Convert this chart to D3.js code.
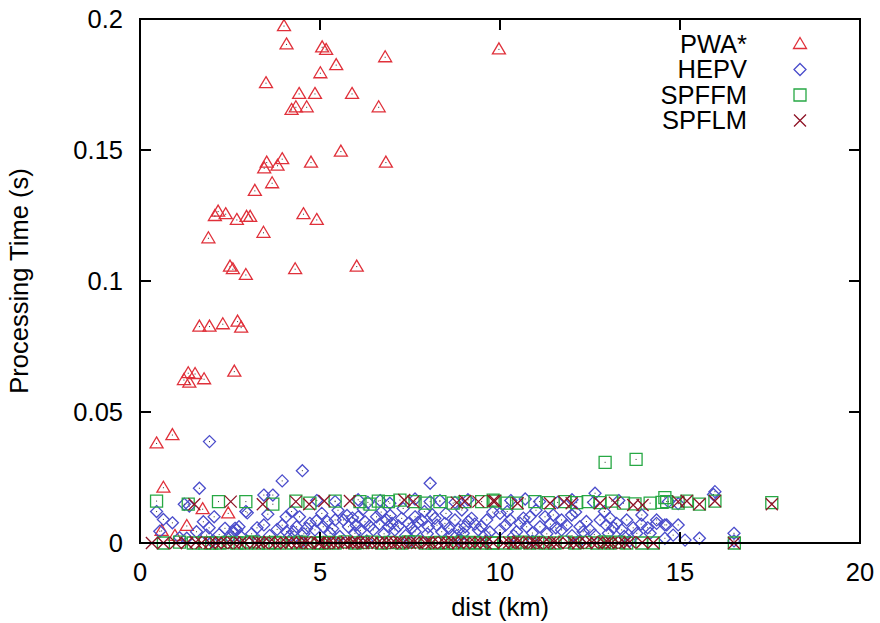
<!DOCTYPE html>
<html>
<head>
<meta charset="utf-8">
<script src="https://cdn.jsdelivr.net/npm/d3@7"></script>
<style>
body { margin: 0; background: #fff; }
text { font-family: "Liberation Sans", Arial, sans-serif; fill: #000; }
</style>
</head>
<body>
<div id="chart-area"></div>
<script>
/*
*    scatter: processing time vs distance
*/

var W = 880;
var H = 623;
var margin = {top: 19, right: 20, bottom: 80, left: 140};
var width = 720;
var height = 524;
var fontSize = "25.5px";

// tick labels
var xTicks = [0, 5, 10, 15, 20];
var yTicks = [0, 0.05, 0.1, 0.15, 0.2];
var seriesNames = ["PWA*", "HEPV", "SPFFM", "SPFLM"];
var seriesColors = ["#e0303a", "#4a4ccb", "#27a844", "#8e1326"];

// PWA* [dist, time]
var pwa = [
  [4.0,0.1973],[4.07,0.1903],[5.06,0.1892],[5.17,0.1882],[6.81,0.1854],[9.97,0.1884],
  [5.45,0.1824],[5.01,0.1793],[3.5,0.1755],[4.42,0.1714],[4.86,0.1714],[5.89,0.1714],
  [4.21,0.1653],[4.33,0.1663],[4.63,0.1663],[6.63,0.1663],[5.58,0.1494],
  [3.52,0.1452],[3.45,0.143],[3.95,0.1465],[3.82,0.144],[4.75,0.1452],[6.83,0.1452],
  [3.67,0.1373],[3.19,0.1344],
  [2.17,0.1265],[2.08,0.1248],[2.38,0.1255],[2.69,0.1233],[2.96,0.1245],[3.06,0.1245],
  [4.54,0.1255],[4.91,0.1233],[1.9,0.1163],[3.43,0.1184],
  [2.5,0.1055],[2.58,0.1045],[2.94,0.1023],[4.31,0.1045],[6.02,0.1055],
  [1.65,0.0826],[1.93,0.0826],[2.3,0.0835],[2.71,0.0845],[2.81,0.0822],
  [1.34,0.0648],[1.53,0.0645],[1.22,0.0622],[1.37,0.0612],[1.78,0.0625],[2.62,0.0654],
  [0.46,0.038],[0.9,0.0412],[0.65,0.0211],[1.74,0.0129],[2.45,0.0113],
  [1.3,0.0065],[0.6,0.0046],[0.97,0.0027]
];

// HEPV [dist, time]
var hepv = [
  [1.93,0.0387],[4.51,0.0276],[3.95,0.0237],[1.65,0.0209],[8.06,0.0228],[12.64,0.019],
  [15.97,0.0196],[15.93,0.0185],
  [0.46,0.012],[0.65,0.009],[0.9,0.0077],[1.37,0.0141],[1.76,0.0081],[1.92,0.0058],
  [2.06,0.01],[2.36,0.0056],[2.64,0.0056],[2.69,0.005],[2.59,0.0043],[2.94,0.012],
  [2.98,0.0115],[3.44,0.0183],[3.69,0.0183],[3.55,0.011],[3.44,0.0069],[3.81,0.0052],
  [4.06,0.01],[4.21,0.012],[4.43,0.01],[4.35,0.0062],[4.63,0.0056],[4.72,0.0075],
  [4.86,0.005],[4.26,0.0043],[4.07,0.0043],[1.57,0.0043],[1.85,0.003],[1.3,0.0018],
  [1.23,0.0148],[2.8,0.0025],[3.1,0.0035],[0.55,0.0045],[1.1,0.002],
  [2.2,0.0032],[2.5,0.0021],[2.75,0.0062],[3.25,0.0058],[3.6,0.0028],[3.95,0.0068],
  [4.15,0.0025],[4.55,0.0035],[4.9,0.0085],
  [5.05,0.0113],[5.42,0.0088],[5.65,0.0088],[5.79,0.0062],[6.06,0.01],[6.25,0.0081],
  [6.57,0.01],[6.85,0.0088],[6.9,0.0062],[7.27,0.0094],[7.45,0.0075],[7.64,0.01],
  [7.82,0.0088],[8.01,0.0062],[8.19,0.0094],[8.47,0.0075],[8.75,0.0088],[9.03,0.0062],
  [9.21,0.0094],[9.4,0.005],[9.63,0.0088],[5.09,0.0062],[5.28,0.0037],[5.97,0.0037],
  [6.48,0.005],[7.08,0.005],[7.64,0.0043],[8.38,0.0043],[8.66,0.003],[8.98,0.0037],
  [9.58,0.003],[7.31,0.0132],[8.94,0.0126],[5.5,0.0125],[6.2,0.013],[6.7,0.0118],
  [7.9,0.012],[8.5,0.0113],[9.8,0.0118],[6.0,0.0068],[7.0,0.0075],[8.25,0.0068],
  [9.3,0.0072],[5.2,0.0082],[6.65,0.0072],[7.55,0.0058],[8.85,0.0052],
  [5.35,0.0055],[5.55,0.0025],[5.9,0.0095],[6.12,0.0048],[6.38,0.0065],[6.78,0.0035],
  [7.18,0.0065],[7.38,0.0028],[7.72,0.0078],[7.98,0.0035],[8.12,0.0108],[8.58,0.0056],
  [8.8,0.0028],[9.12,0.0082],[9.48,0.0064],[9.72,0.0042],[5.75,0.0105],[6.95,0.0105],
  [4.91,0.0162],[5.42,0.0158],[6.06,0.0165],[6.33,0.0155],[6.67,0.0162],[6.94,0.0152],
  [7.64,0.0168],[8.06,0.0158],[8.33,0.0162],[8.75,0.0155],[9.11,0.0165],[10.3,0.0162],
  [11.1,0.0158],[12.0,0.0165],[12.6,0.0155],[13.3,0.0162],[14.68,0.0158],[14.95,0.015],
  [10.7,0.0168],[11.6,0.0155],
  [10.0,0.0113],[10.28,0.0088],[10.56,0.0075],[10.83,0.01],[11.11,0.0062],[11.25,0.01],
  [11.48,0.0107],[11.71,0.0088],[11.99,0.0107],[12.22,0.0062],[12.5,0.005],[12.78,0.0088],
  [13.06,0.0094],[13.24,0.0075],[13.52,0.0088],[13.94,0.0107],[14.35,0.0088],[14.58,0.0069],
  [10.0,0.005],[10.46,0.0043],[10.74,0.0062],[11.71,0.005],[12.31,0.0043],[13.01,0.0037],
  [13.38,0.005],[13.8,0.0037],[14.17,0.0037],[14.58,0.0018],[14.63,0.0069],[14.95,0.0069],
  [14.81,0.003],[15.14,0.0011],[15.54,0.0018],[16.5,0.0037],[14.35,0.0075],[10.2,0.012],
  [11.0,0.0125],[12.1,0.0118],[12.9,0.012],[10.9,0.0038],[11.4,0.0072],[12.0,0.0028],
  [12.95,0.0068],[13.7,0.0058],[11.85,0.0068],
  [10.15,0.0068],[10.38,0.0028],[10.65,0.0095],[11.3,0.0035],[11.55,0.0058],[12.4,0.0082],
  [12.62,0.0032],[13.15,0.0058],[13.45,0.0025],[13.92,0.0072],[14.1,0.0058],
  [2.0,0.0005],[3.3,0.0008],[4.5,0.0006],[6.3,0.0008],[7.5,0.0005],[8.9,0.0009],
  [9.6,0.0006],[10.9,0.0007],[12.2,0.0005],[13.6,0.0008],[16.5,0.0008]
];

// SPFFM [dist, time]
var spffm = [
  [12.92,0.0308],[13.78,0.0319],
  [0.46,0.016],[1.34,0.0148],[2.18,0.0158],[2.94,0.0158],[3.69,0.0148],[4.33,0.016],
  [4.72,0.0152],[5.42,0.016],[6.11,0.0158],[6.39,0.0148],[6.62,0.016],[6.9,0.0158],
  [7.22,0.0164],[7.64,0.0158],[7.92,0.0152],[8.33,0.0158],[8.7,0.0152],[9.03,0.0158],
  [9.49,0.0158],[9.81,0.0164],[9.86,0.016],[10.19,0.0152],[10.46,0.0152],[10.97,0.0158],
  [11.34,0.0154],[11.81,0.0158],[12.13,0.0154],[12.45,0.0158],[12.78,0.0154],[13.1,0.016],
  [13.43,0.0152],[13.75,0.0149],[14.17,0.0152],[14.58,0.0173],[14.5,0.0155],[14.63,0.0158],
  [14.95,0.0152],[15.19,0.016],[15.54,0.0148],[15.97,0.016],[17.55,0.0154],
  [0.65,0],[1.48,0],[1.8,0],[1.99,0],[2.22,0],[2.69,0],[2.96,0],[3.29,0],[3.56,0],
  [3.89,0],[4.26,0],[4.63,0],[4.95,0],[5.05,0],[5.42,0],[5.97,0],[6.71,0],[7.27,0],
  [7.64,0.0004],[7.92,0],[8.19,0],[8.52,0],[8.75,0],[9.12,0],[9.49,0],[9.77,0],[9.81,0],
  [10.14,0],[10.42,0],[10.83,0],[11.25,0],[11.53,0],[12.08,0],[12.69,0],[13.06,0],
  [13.52,0],[13.94,0],[14.26,0],[16.51,0],
  [1.1,0.0003],[2.45,0.0002],[3.1,0.0004],[3.75,0.0002],[4.45,0.0003],[5.25,0.0002],
  [5.7,0.0004],[6.2,0.0002],[6.45,0.0003],[6.95,0.0002],[7.45,0.0004],[8.35,0.0002],
  [8.95,0.0003],[9.3,0.0002],[10.6,0.0003],[11.05,0.0002],[11.8,0.0003],[12.35,0.0002],
  [12.9,0.0004],[13.3,0.0003]
];

// SPFLM [dist, time]
var spflm = [
  [1.51,0.0148],[2.52,0.0158],[3.41,0.0148],[4.33,0.0158],[4.7,0.0148],[5.12,0.016],
  [5.83,0.016],[7.34,0.0164],[7.59,0.0158],[8.8,0.0154],[9.03,0.016],[9.4,0.0158],
  [9.81,0.016],[9.86,0.016],[10.49,0.0152],[11.39,0.0152],[11.78,0.0158],[11.99,0.0152],
  [12.78,0.0152],[13.19,0.0154],[13.7,0.0145],[13.96,0.0145],[14.95,0.0158],[15.19,0.016],
  [15.54,0.0148],[15.97,0.016],[17.55,0.0148],
  [0.33,0],[0.65,0],[1.0,0],[1.3,0],[1.71,0],[1.94,0],[2.1,0],[2.41,0],[2.6,0],[2.78,0],
  [3.19,0],[3.4,0],[3.75,0],[3.9,0],[4.07,0],[4.35,0],[4.5,0],[4.72,0],[4.95,0],[5.0,0],
  [5.14,0],[5.37,0],[5.5,0],[5.65,0],[5.88,0],[6.06,0],[6.2,0],[6.44,0],[6.6,0],[6.71,0],
  [6.99,0],[7.1,0],[7.31,0],[7.5,0],[7.7,0],[7.92,0],[8.1,0],[8.3,0],[8.56,0],[8.84,0],
  [9.0,0],[9.31,0],[9.6,0],[9.81,0],[10.1,0],[10.37,0],[10.6,0],[10.83,0],[11.02,0],
  [11.2,0],[11.39,0],[11.6,0],[11.9,0],[12.17,0],[12.4,0],[12.69,0],[12.9,0],[13.1,0],
  [13.3,0],[13.47,0],[14.26,0],[16.5,0],
  [1.55,0.0003],[2.25,0.0002],[2.9,0.0003],[3.3,0.0002],[3.6,0.0004],[4.2,0.0002],
  [4.6,0.0003],[5.25,0.0002],[5.75,0.0004],[5.95,0.0002],[6.3,0.0003],[6.85,0.0002],
  [7.2,0.0004],[7.6,0.0002],[8.0,0.0003],[8.45,0.0002],[8.7,0.0004],[9.15,0.0002],
  [9.45,0.0003],[10.25,0.0002],[10.5,0.0004],[10.95,0.0002],[11.5,0.0003],[12.05,0.0002],
  [12.55,0.0003],[13.0,0.0002],[13.6,0.0003],[13.95,0.0002]
];

var svg = d3.select("#chart-area").append("svg")
.attr("width", W)
.attr("height", H)

var g = svg.append("g")
.attr("transform", "translate(" + margin.left + ", " + margin.top + ")")

var x = d3.scaleLinear()
.domain([0, 20])
.range([0, width])

var y = d3.scaleLinear()
.domain([0, 0.2])
.range([height, 0])

// marker shapes, gnuplot style
var shapes = [
  "M0,-6.5L6.5,4.5L-6.5,4.5Z",
  "M0,-6L6,0L0,6L-6,0Z",
  "M-6,-6L6,-6L6,6L-6,6Z",
  "M-6,-6L6,6M6,-6L-6,6"
];

// tick labels
g.selectAll(".xlab")
.data(xTicks)
.enter().append("text")
.attr("x", d => x(d))
.attr("y", height + 38)
.attr("text-anchor", "middle")
.attr("font-size", fontSize)
.text(d => d)

g.selectAll(".ylab")
.data(yTicks)
.enter().append("text")
.attr("x", -17)
.attr("y", d => y(d))
.attr("dy", "0.35em")
.attr("text-anchor", "end")
.attr("font-size", fontSize)
.text(d => d)

// axis labels
g.append("text")
.attr("x", width / 2)
.attr("y", height + 73)
.attr("text-anchor", "middle")
.attr("font-size", fontSize)
.text("dist (km)")

g.append("text")
.attr("transform", "rotate(-90)")
.attr("x", -height / 2)
.attr("y", -112)
.attr("text-anchor", "middle")
.attr("font-size", fontSize)
.text("Processing Time (s)")

// points
var allSeries = [pwa, hepv, spffm, spflm];
allSeries.forEach((data, i) => {
  var pts = g.append("g").selectAll("g")
  .data(data)
  .enter().append("g")
  .attr("transform", d => "translate(" + x(d[0]) + "," + y(d[1]) + ")")

  pts.append("path")
  .attr("d", shapes[i])
  .attr("fill", "none")
  .attr("stroke", seriesColors[i])
  .attr("stroke-width", 1.3)

  if (i < 3) {
    pts.append("rect")
    .attr("x", -0.5).attr("y", -0.5)
    .attr("width", 1).attr("height", 1)
    .attr("fill", "#333")
  }
})

// border + inward ticks
var tickLen = 11
var frame = g.append("g")
.attr("stroke", "#000")
.attr("stroke-width", 2)

xTicks.slice(1, -1).forEach(t => {
  frame.append("line").attr("x1", x(t)).attr("x2", x(t)).attr("y1", height).attr("y2", height - tickLen)
  frame.append("line").attr("x1", x(t)).attr("x2", x(t)).attr("y1", 0).attr("y2", tickLen)
})
yTicks.slice(1, -1).forEach(t => {
  frame.append("line").attr("x1", 0).attr("x2", tickLen).attr("y1", y(t)).attr("y2", y(t))
  frame.append("line").attr("x1", width).attr("x2", width - tickLen).attr("y1", y(t)).attr("y2", y(t))
})

frame.append("rect")
.attr("x", 0)
.attr("y", 0)
.attr("width", width)
.attr("height", height)
.attr("fill", "none")

// legend
var legend = svg.append("g")
.attr("transform", "translate(0, 44)")

seriesNames.forEach((name, i) => {
  var row = legend.append("g")
  .attr("transform", "translate(0," + (i * 25.5) + ")")

  row.append("text")
  .attr("x", 747)
  .attr("y", 0)
  .attr("dy", "0.35em")
  .attr("text-anchor", "end")
  .attr("font-size", fontSize)
  .text(name)

  row.append("path")
  .attr("transform", "translate(800,0)")
  .attr("d", shapes[i])
  .attr("fill", "none")
  .attr("stroke", seriesColors[i])
  .attr("stroke-width", 1.3)
})
</script>
</body>
</html>
